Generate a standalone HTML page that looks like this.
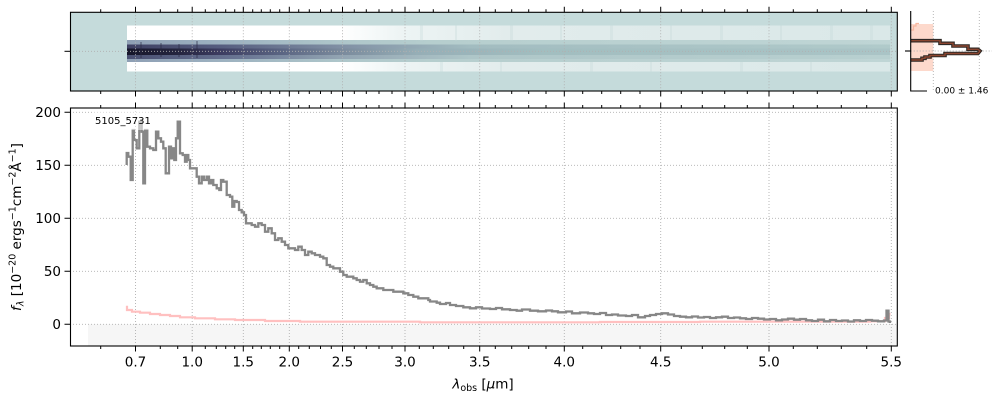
<!DOCTYPE html>
<html>
<head>
<meta charset="utf-8">
<style>
  html,body{margin:0;padding:0;background:#fff;}
  svg{display:block;}
  text{font-family:"DejaVu Sans","Liberation Sans",sans-serif;fill:#000;}
</style>
</head>
<body>
<svg width="1000" height="400" viewBox="0 0 1000 400" xmlns="http://www.w3.org/2000/svg">
  <defs>
    <linearGradient id="gBand" gradientUnits="userSpaceOnUse" x1="127" y1="0" x2="890" y2="0">
      <stop offset="0" stop-color="#ffffff"/>
      <stop offset="0.28" stop-color="#ffffff"/>
      <stop offset="0.36" stop-color="#edf4f4"/>
      <stop offset="0.5" stop-color="#e2ecec"/>
      <stop offset="1" stop-color="#dae8e8"/>
    </linearGradient>
    <linearGradient id="gRow1" gradientUnits="userSpaceOnUse" x1="127" y1="0" x2="890" y2="0">
      <stop offset="0" stop-color="#8e9fb4"/>
      <stop offset="0.1" stop-color="#9aaebe"/>
      <stop offset="0.28" stop-color="#aec6ca"/>
      <stop offset="0.4" stop-color="#b6cece"/>
      <stop offset="1" stop-color="#bfd5d5"/>
    </linearGradient>
    <linearGradient id="gRow2" gradientUnits="userSpaceOnUse" x1="127" y1="0" x2="890" y2="0">
      <stop offset="0" stop-color="#3e4062"/>
      <stop offset="0.12" stop-color="#555c7e"/>
      <stop offset="0.28" stop-color="#8090a4"/>
      <stop offset="0.45" stop-color="#a2bcc0"/>
      <stop offset="1" stop-color="#b0caca"/>
    </linearGradient>
    <linearGradient id="gCore" gradientUnits="userSpaceOnUse" x1="127" y1="0" x2="890" y2="0">
      <stop offset="0" stop-color="#16162a"/>
      <stop offset="0.07" stop-color="#262640"/>
      <stop offset="0.12" stop-color="#3c3c60"/>
      <stop offset="0.2" stop-color="#5a6482"/>
      <stop offset="0.28" stop-color="#7a8a9c"/>
      <stop offset="0.38" stop-color="#96aeb6"/>
      <stop offset="0.55" stop-color="#a2bec0"/>
      <stop offset="1" stop-color="#aac4c6"/>
    </linearGradient>
    <linearGradient id="gRow3" gradientUnits="userSpaceOnUse" x1="127" y1="0" x2="890" y2="0">
      <stop offset="0" stop-color="#4a5072"/>
      <stop offset="0.15" stop-color="#6a7694"/>
      <stop offset="0.28" stop-color="#92a4b2"/>
      <stop offset="0.45" stop-color="#aec6c8"/>
      <stop offset="1" stop-color="#b8d0d0"/>
    </linearGradient>
  </defs>

  <!-- ================= TOP 2D PANEL ================= -->
  <rect x="70" y="12.3" width="827.3" height="78.7" fill="#c5dbdb"/>
  <rect x="127" y="25.5" width="763" height="46" fill="url(#gBand)"/>
  <rect x="127" y="40" width="763" height="4.5" fill="url(#gRow1)"/>
  <rect x="127" y="44.5" width="763" height="4" fill="url(#gRow2)"/>
  <rect x="127" y="48.5" width="763" height="6.5" fill="url(#gCore)"/>
  <rect x="127" y="55" width="763" height="4" fill="url(#gRow3)"/>
  <rect x="127" y="59" width="763" height="3" fill="url(#gRow1)"/>
  <!-- subtle noise columns -->
  <g fill="#c5dbdb" fill-opacity="0.35">
    <rect x="420" y="25.5" width="3" height="15"/><rect x="455" y="25.5" width="2" height="15"/>
    <rect x="510" y="25.5" width="3" height="15"/><rect x="560" y="25.5" width="2" height="15"/>
    <rect x="610" y="25.5" width="3" height="15"/><rect x="670" y="25.5" width="2" height="15"/>
    <rect x="720" y="25.5" width="3" height="15"/><rect x="780" y="25.5" width="2" height="15"/>
    <rect x="830" y="25.5" width="3" height="15"/><rect x="870" y="25.5" width="3" height="15"/>
    <rect x="440" y="62" width="3" height="9.5"/><rect x="500" y="62" width="2" height="9.5"/>
    <rect x="590" y="62" width="3" height="9.5"/><rect x="650" y="62" width="2" height="9.5"/>
    <rect x="740" y="62" width="3" height="9.5"/><rect x="810" y="62" width="2" height="9.5"/>
  </g>
  <g fill="#2a2a44" fill-opacity="0.35">
    <rect x="140" y="42" width="2" height="16"/><rect x="160" y="43" width="2" height="14"/>
    <rect x="178" y="44" width="2" height="13"/><rect x="196" y="41" width="2" height="17"/>
  </g>
  <!-- grid top panel -->
  <g stroke="#b0b0b0" stroke-width="0.9" stroke-dasharray="1,2" fill="none">
    <g transform="translate(0,12.3)">
      <path d="M135.5 0v78.7M192.2 0v78.7M243.3 0v78.7M289.3 0v78.7M342.5 0v78.7M405 0v78.7M479.7 0v78.7M564.3 0v78.7M660.7 0v78.7M769 0v78.7M891.3 0v78.7"/>
    </g>
    <path d="M70 51.3H897"/>
  </g>
  <rect x="70.5" y="12.3" width="826.8" height="78.7" fill="none" stroke="#000" stroke-width="1.1"/>
  <!-- ticks top panel -->
  <g stroke="#000" stroke-width="1" fill="none">
    <g transform="translate(0,6.8)"><path d="M135.5 0v5.5M192.2 0v5.5M243.3 0v5.5M289.3 0v5.5M342.5 0v5.5M405 0v5.5M479.7 0v5.5M564.3 0v5.5M660.7 0v5.5M769 0v5.5M891.3 0v5.5"/></g>
    <g transform="translate(0,9.3)"><path d="M100.7 0v3M160.3 0v3M177.7 0v3M205.3 0v3M216.3 0v3M225.7 0v3M234.7 0v3M252.7 0v3M261.3 0v3M270.3 0v3M279.7 0v3M298.7 0v3M309.3 0v3M320.5 0v3M331.3 0v3M354.3 0v3M366.3 0v3M379 0v3M392 0v3M419.3 0v3M433.3 0v3M448.7 0v3M463.7 0v3M495.3 0v3M511.7 0v3M528.7 0v3M546 0v3M582.7 0v3M601.7 0v3M620.7 0v3M640 0v3M681.3 0v3M702.3 0v3M724.7 0v3M747.3 0v3M793.3 0v3M817.3 0v3M841.3 0v3M866.7 0v3"/></g>
    <g transform="translate(0,91)"><path d="M135.5 0v5.5M192.2 0v5.5M243.3 0v5.5M289.3 0v5.5M342.5 0v5.5M405 0v5.5M479.7 0v5.5M564.3 0v5.5M660.7 0v5.5M769 0v5.5M891.3 0v5.5"/></g>
    <g transform="translate(0,91)"><path d="M100.7 0v3M160.3 0v3M177.7 0v3M205.3 0v3M216.3 0v3M225.7 0v3M234.7 0v3M252.7 0v3M261.3 0v3M270.3 0v3M279.7 0v3M298.7 0v3M309.3 0v3M320.5 0v3M331.3 0v3M354.3 0v3M366.3 0v3M379 0v3M392 0v3M419.3 0v3M433.3 0v3M448.7 0v3M463.7 0v3M495.3 0v3M511.7 0v3M528.7 0v3M546 0v3M582.7 0v3M601.7 0v3M620.7 0v3M640 0v3M681.3 0v3M702.3 0v3M724.7 0v3M747.3 0v3M793.3 0v3M817.3 0v3M841.3 0v3M866.7 0v3"/></g>
    <path d="M64.5 51.3H70"/>
  </g>

  <!-- ================= RIGHT PROFILE PANEL ================= -->
  <rect x="911" y="24" width="22.3" height="47" fill="#fdd9cc"/>
  <path d="M911 30H913.5V26H916V23.5H919" fill="none" stroke="#f8b8a0" stroke-width="1.2"/>
  <g stroke="#b0b0b0" stroke-width="0.9" stroke-dasharray="1,2" fill="none">
    <path d="M933.3 11V91M979.3 11V91M910.7 51H992"/>
  </g>
  <path d="M911 40.7H940V43.3H953V46H968V49.3H978L980 51L978 53.5H945V55.5H930V57H925V58.3H922V60H911" fill="none" stroke="#2e2825" stroke-width="3.6" stroke-linejoin="miter"/>
  <path d="M911 40.7H940V43.3H953V46H968V49.3H978L980 51L978 53.5H945V55.5H930V57H925V58.3H922V60H911" fill="none" stroke="#8c4630" stroke-width="1.4" stroke-linejoin="miter"/>
  <g stroke="#000" stroke-width="1.1" fill="none">
    <path d="M910.7 11V91.5M910.2 91H927"/>
    <path d="M905 51H910.7"/>
  </g>
  <text x="935" y="93.5" font-size="9">0.00 ± 1.46</text>

  <!-- ================= LOWER 1D PANEL ================= -->
  <rect x="88" y="324.3" width="809" height="21.7" fill="#f6f6f6"/>
  <g stroke="#b0b0b0" stroke-width="0.9" stroke-dasharray="1,2" fill="none">
    <g transform="translate(0,108)">
      <path d="M135.5 0v238M192.2 0v238M243.3 0v238M289.3 0v238M342.5 0v238M405 0v238M479.7 0v238M564.3 0v238M660.7 0v238M769 0v238M891.3 0v238"/>
    </g>
    <path d="M70 324.3H897M70 271.3H897M70 218.3H897M70 165.3H897M70 112.3H897"/>
  </g>

  <!-- error spectrum (pink) -->
  <path d="M127 305.7V310H132V311.7H140V312.7H150V314H160V315H170V316H180V317.3H195V318.3H215V319.3H235V320H265V321H300V321.7H420V322.3H600V322H700V321.7H870V321.3H885V318H889V314H890.5" fill="none" stroke="#ffc0c0" stroke-width="2.2"/>

  <!-- flux spectrum (gray) -->
  <path d="M126.7 165V153H128.3V156.7H130.7V180H132.7V130H134V140H136.7V148.3H139.3V121.7H141.7V131.7H143.3V183.3H145V130H147.3V146.7H150V148.3H153.3V150H156V131.7H158.3V138.3H161V141.7H163.3V148.3H165.7V173.3H169V146.7H171V158.3H172.7V148.3H174.3V160H176V138.3H177.7V121.7H180V153.3H182.7V155H185V161.7H186.7V155H188.3V160H190V168.3H196.7V176.7H199V183.3H201.7V176.7H204V180H206.7V176.7H209V183.3H211V180H213.3V185H216.7V188.3H219.3V190H221V180H223.3V181.7H226.7V195H230V196.7H232.3V206.7H234.3V201H236.7V202H239V210H241.7V212.3H244V215H246V223.3H251.7V225H255V226.7H258.3V223.3H261.7V225H265V231.7H268.3V228.3H271.7V233.3H275V240H278.3V238.3H281.7V241.7H285V245H288.3V248.3H295V250H298.3V246.7H301.7V250H305V255H308.3V251.7H311.7V253.3H315V255H320V256.7H323.3V258.3H326.7V265H330V266.7H333.3V268.3H340V271.7H343.3V275H346.7V276.7H353.3V278.3H356.7V280H360V281.7H363.3V280H366.7V283.3H370V285H373.3V286.7H376.7V288.3H383.3V290H393.3V291.7H403.3V293.3H408.3V295H413.3V296.7H418.3V298.3H428.3V300H430V301.5H436.7V302.7H440V304H446V303H450V305H456V306H463.3V307.3H470V308.3H476V307.3H482V308.5H490V309H496V308H502V309.3H510V310H516.7V310.7H522V309.5H530V310.7H538V311.3H546V310.5H552V311.3H558V312.3H566V311.5H572V313.3H580V312.5H588V313.3H594V314H600V313H606V315H612V314.5H618V315.5H626V316H632V315H638V317.3H645V316H650V315H656V314H662V313.3H668V314.5H674V316H680V316.7H686V317.3H692V316.5H698V317.5H704V317H710V318H716V317.3H722V316.7H728V318H734V317.5H740V318.3H746V319H752V318H758V318.7H764V319.5H770V319H776V320.3H782V319.5H788V318.7H794V319.7H800V319H806V320.3H812V321H818V319.7H824V321.3H830V320H836V321H842V320.5H848V321.5H854V320.3H860V321H866V320H872V320.7H878V321.3H884V320.5H886.5V310.7H888.5V321.5H890V323" fill="none" stroke="#878787" stroke-width="2.3" stroke-linejoin="miter"/>

  <!-- label with semi-transparent box -->
  <rect x="92" y="111" width="66" height="19" fill="#ffffff" fill-opacity="0.5"/>
  <text x="95" y="124" font-size="10">5105_5731</text>

  <rect x="70.5" y="108" width="826.8" height="238" fill="none" stroke="#000" stroke-width="1.1"/>
  <!-- ticks lower panel -->
  <g stroke="#000" stroke-width="1" fill="none">
    <g transform="translate(0,102.5)"><path d="M135.5 0v5.5M192.2 0v5.5M243.3 0v5.5M289.3 0v5.5M342.5 0v5.5M405 0v5.5M479.7 0v5.5M564.3 0v5.5M660.7 0v5.5M769 0v5.5M891.3 0v5.5"/></g>
    <g transform="translate(0,105)"><path d="M100.7 0v3M160.3 0v3M177.7 0v3M205.3 0v3M216.3 0v3M225.7 0v3M234.7 0v3M252.7 0v3M261.3 0v3M270.3 0v3M279.7 0v3M298.7 0v3M309.3 0v3M320.5 0v3M331.3 0v3M354.3 0v3M366.3 0v3M379 0v3M392 0v3M419.3 0v3M433.3 0v3M448.7 0v3M463.7 0v3M495.3 0v3M511.7 0v3M528.7 0v3M546 0v3M582.7 0v3M601.7 0v3M620.7 0v3M640 0v3M681.3 0v3M702.3 0v3M724.7 0v3M747.3 0v3M793.3 0v3M817.3 0v3M841.3 0v3M866.7 0v3"/></g>
    <g transform="translate(0,346)"><path d="M135.5 0v5.5M192.2 0v5.5M243.3 0v5.5M289.3 0v5.5M342.5 0v5.5M405 0v5.5M479.7 0v5.5M564.3 0v5.5M660.7 0v5.5M769 0v5.5M891.3 0v5.5"/></g>
    <g transform="translate(0,346)"><path d="M100.7 0v3M160.3 0v3M177.7 0v3M205.3 0v3M216.3 0v3M225.7 0v3M234.7 0v3M252.7 0v3M261.3 0v3M270.3 0v3M279.7 0v3M298.7 0v3M309.3 0v3M320.5 0v3M331.3 0v3M354.3 0v3M366.3 0v3M379 0v3M392 0v3M419.3 0v3M433.3 0v3M448.7 0v3M463.7 0v3M495.3 0v3M511.7 0v3M528.7 0v3M546 0v3M582.7 0v3M601.7 0v3M620.7 0v3M640 0v3M681.3 0v3M702.3 0v3M724.7 0v3M747.3 0v3M793.3 0v3M817.3 0v3M841.3 0v3M866.7 0v3"/></g>
    <path d="M64.5 324.3H70M64.5 271.3H70M64.5 218.3H70M64.5 165.3H70M64.5 112.3H70"/>
  </g>

  <!-- y tick labels -->
  <g font-size="13.5" text-anchor="end">
    <text x="61" y="329">0</text>
    <text x="61" y="276">50</text>
    <text x="61" y="223">100</text>
    <text x="61" y="170">150</text>
    <text x="61" y="117">200</text>
  </g>
  <!-- x tick labels -->
  <g font-size="13.5" text-anchor="middle">
    <text x="135.5" y="366.5">0.7</text>
    <text x="192.2" y="366.5">1.0</text>
    <text x="243.3" y="366.5">1.5</text>
    <text x="289.3" y="366.5">2.0</text>
    <text x="342.5" y="366.5">2.5</text>
    <text x="405" y="366.5">3.0</text>
    <text x="479.7" y="366.5">3.5</text>
    <text x="564.3" y="366.5">4.0</text>
    <text x="660.7" y="366.5">4.5</text>
    <text x="769" y="366.5">5.0</text>
    <text x="891.3" y="366.5">5.5</text>
  </g>

  <!-- x label -->
  <text x="483" y="388.5" font-size="13.5" text-anchor="middle"><tspan font-style="italic">λ</tspan><tspan font-size="9.5" dy="2.5">obs</tspan><tspan dy="-2.5"> [</tspan><tspan font-style="italic">μ</tspan><tspan>m]</tspan></text>

  <!-- y label -->
  <text transform="translate(21,227) rotate(-90)" font-size="13.5" text-anchor="middle"><tspan font-style="italic">f</tspan><tspan font-size="9.5" dy="2.5" font-style="italic">λ</tspan><tspan dy="-2.5"> [10</tspan><tspan font-size="9.5" dy="-5.5">−20</tspan><tspan dy="5.5"> ergs</tspan><tspan font-size="9.5" dy="-5.5">−1</tspan><tspan dy="5.5">cm</tspan><tspan font-size="9.5" dy="-5.5">−2</tspan><tspan dy="5.5">Å</tspan><tspan font-size="9.5" dy="-5.5">−1</tspan><tspan dy="5.5">]</tspan></text>
</svg>
</body>
</html>
